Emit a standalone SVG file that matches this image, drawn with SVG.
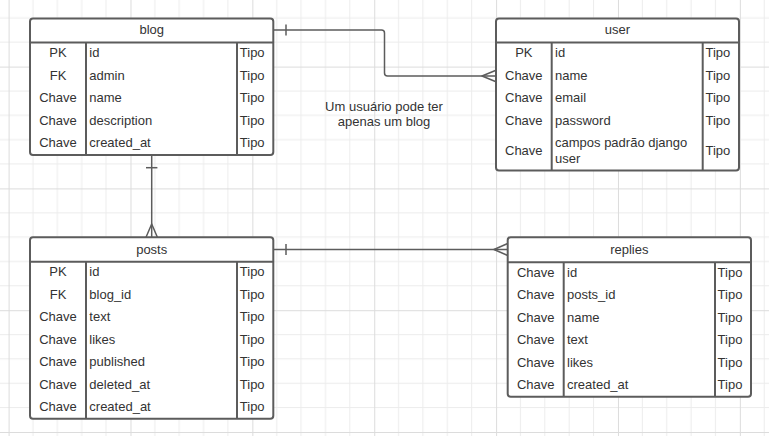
<svg xmlns="http://www.w3.org/2000/svg" width="769" height="436" viewBox="0 0 769 436">
  <defs>
    <pattern id="grid" patternUnits="userSpaceOnUse" x="8.6" y="66.6" width="121.875" height="121.8">
      <path d="M24.375 0V121.8M48.75 0V121.8M73.125 0V121.8M97.5 0V121.8M0 24.36H121.875M0 48.72H121.875M0 73.08H121.875M0 97.44H121.875" stroke="#ececec" stroke-width="1" fill="none"/>
      <path d="M0.5 0V121.8M0 0.5H121.875" stroke="#dcdcdc" stroke-width="1" fill="none"/>
    </pattern>
  </defs>
  <style>
    .box { fill: #ffffff; stroke: #5c5c5c; stroke-width: 2; }
    .div { stroke: #5c5c5c; stroke-width: 2; fill: none; }
    .con { stroke: #5c5c5c; stroke-width: 1.5; fill: none; stroke-linejoin: round; }
    text { font-family: "Liberation Sans", Arial, sans-serif; font-size: 13px; fill: #333333; }
    .c { text-anchor: middle; }
  </style>
  <rect x="0" y="0" width="769" height="436" fill="#ffffff"/>
  <rect x="0" y="0" width="769" height="436" fill="url(#grid)"/>

  <g id="connectors">
    <path class="con" d="M273.3 30 H381.5 Q384.5 30 384.5 33 V73 Q384.5 76 387.5 76 H496"/>
    <path class="con" d="M286 24.5 V35.5"/>
    <path class="con" d="M496 70.3 L482 76 L496 81.7"/>
    <path class="con" d="M151.7 155 V237.3"/>
    <path class="con" d="M146 167.7 H157.4"/>
    <path class="con" d="M146 237.3 L151.7 224 L157.4 237.3"/>
    <path class="con" d="M273.3 249.5 H507.7"/>
    <path class="con" d="M286 244 V255"/>
    <path class="con" d="M507.7 243.5 L494 249.5 L507.7 255.5"/>
  </g>

  <text class="c" x="384" y="110.5">Um usuário pode ter</text>
  <text class="c" x="384" y="126">apenas um blog</text>

  <g id="blog">
    <rect class="box" x="30" y="18.5" width="243.3" height="136.5" rx="3"/>
    <path class="div" d="M30 42.5 H273.3 M86 42.5 V155 M237 42.5 V155"/>
    <text class="c" x="151.7" y="34">blog</text>
    <text class="c" x="58" y="57.2">PK</text><text x="89.3" y="57.2">id</text><text x="239.8" y="57.2">Tipo</text>
    <text class="c" x="58" y="79.7">FK</text><text x="89.3" y="79.7">admin</text><text x="239.8" y="79.7">Tipo</text>
    <text class="c" x="58" y="102.2">Chave</text><text x="89.3" y="102.2">name</text><text x="239.8" y="102.2">Tipo</text>
    <text class="c" x="58" y="124.7">Chave</text><text x="89.3" y="124.7">description</text><text x="239.8" y="124.7">Tipo</text>
    <text class="c" x="58" y="147.2">Chave</text><text x="89.3" y="147.2">created_at</text><text x="239.8" y="147.2">Tipo</text>
  </g>

  <g id="user">
    <rect class="box" x="496" y="18.5" width="243" height="152" rx="3"/>
    <path class="div" d="M496 42.5 H739 M551.7 42.5 V170.5 M702.7 42.5 V170.5"/>
    <text class="c" x="617.5" y="34">user</text>
    <text class="c" x="523.8" y="57.2">PK</text><text x="555" y="57.2">id</text><text x="705.5" y="57.2">Tipo</text>
    <text class="c" x="523.8" y="79.7">Chave</text><text x="555" y="79.7">name</text><text x="705.5" y="79.7">Tipo</text>
    <text class="c" x="523.8" y="102.2">Chave</text><text x="555" y="102.2">email</text><text x="705.5" y="102.2">Tipo</text>
    <text class="c" x="523.8" y="124.7">Chave</text><text x="555" y="124.7">password</text><text x="705.5" y="124.7">Tipo</text>
    <text class="c" x="523.8" y="154.7">Chave</text><text x="555" y="147">campos padrão django</text><text x="555" y="162.5">user</text><text x="705.5" y="154.7">Tipo</text>
  </g>

  <g id="posts">
    <rect class="box" x="30" y="237.3" width="243.3" height="181.4" rx="3"/>
    <path class="div" d="M30 261.7 H273.3 M86 261.7 V418.7 M237 261.7 V418.7"/>
    <text class="c" x="151.7" y="253.5">posts</text>
    <text class="c" x="58" y="276.4">PK</text><text x="89.3" y="276.4">id</text><text x="239.8" y="276.4">Tipo</text>
    <text class="c" x="58" y="298.8">FK</text><text x="89.3" y="298.8">blog_id</text><text x="239.8" y="298.8">Tipo</text>
    <text class="c" x="58" y="321.2">Chave</text><text x="89.3" y="321.2">text</text><text x="239.8" y="321.2">Tipo</text>
    <text class="c" x="58" y="343.7">Chave</text><text x="89.3" y="343.7">likes</text><text x="239.8" y="343.7">Tipo</text>
    <text class="c" x="58" y="366.1">Chave</text><text x="89.3" y="366.1">published</text><text x="239.8" y="366.1">Tipo</text>
    <text class="c" x="58" y="388.5">Chave</text><text x="89.3" y="388.5">deleted_at</text><text x="239.8" y="388.5">Tipo</text>
    <text class="c" x="58" y="411">Chave</text><text x="89.3" y="411">created_at</text><text x="239.8" y="411">Tipo</text>
  </g>

  <g id="replies">
    <rect class="box" x="507.7" y="237.3" width="243.3" height="159.4" rx="3"/>
    <path class="div" d="M507.7 262.3 H751 M563.7 262.3 V396.7 M715 262.3 V396.7"/>
    <text class="c" x="629.3" y="254">replies</text>
    <text class="c" x="535.7" y="277">Chave</text><text x="567" y="277">id</text><text x="717.6" y="277">Tipo</text>
    <text class="c" x="535.7" y="299.4">Chave</text><text x="567" y="299.4">posts_id</text><text x="717.6" y="299.4">Tipo</text>
    <text class="c" x="535.7" y="321.8">Chave</text><text x="567" y="321.8">name</text><text x="717.6" y="321.8">Tipo</text>
    <text class="c" x="535.7" y="344.2">Chave</text><text x="567" y="344.2">text</text><text x="717.6" y="344.2">Tipo</text>
    <text class="c" x="535.7" y="366.6">Chave</text><text x="567" y="366.6">likes</text><text x="717.6" y="366.6">Tipo</text>
    <text class="c" x="535.7" y="389">Chave</text><text x="567" y="389">created_at</text><text x="717.6" y="389">Tipo</text>
  </g>
</svg>
